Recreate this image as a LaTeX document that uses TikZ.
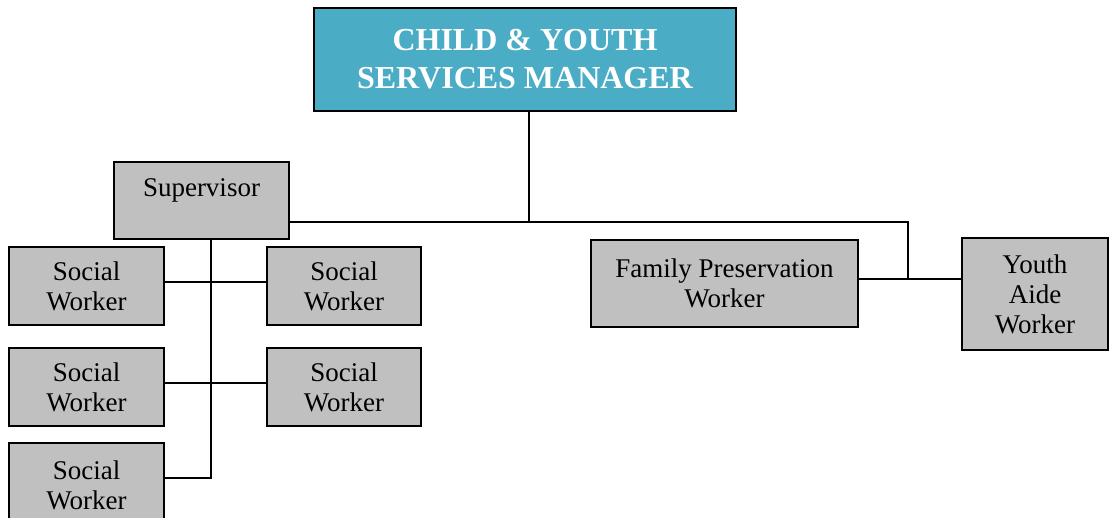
\documentclass[tikz,border=0pt]{standalone}
\usepackage{fontspec}
\setmainfont{Liberation Serif}
\definecolor{managerBlue}{HTML}{4BACC6}
\definecolor{boxGray}{HTML}{C0C0C0}

\begin{document}
\begin{tikzpicture}[x=0.5pt, y=-0.5pt,
        staff/.style={draw, line width=1pt, fill=boxGray, inner sep=0pt, align=center,
            font=\fontsize{13.5}{15}\selectfont},
        link/.style={line width=1pt}]
        \useasboundingbox (0,0) rectangle (1109,518);
        \clip (0,0) rectangle (1109,518);

        % manager
        \node[draw, line width=1.2pt, fill=managerBlue, text=white, align=center,
            minimum width=211pt, minimum height=51.5pt,
            font=\fontsize{16}{19}\selectfont\bfseries] (mgr) at (525,59.5)
            {CHILD \& YOUTH\\SERVICES MANAGER};

        % supervisor and social workers
        \node[staff, minimum width=87.5pt, text height=17.5pt, text depth=21pt] (sup) at (201.5,200.5) {Supervisor};
        \node[staff, minimum width=77.5pt, minimum height=39pt] (sw1) at (86.5,286) {Social\\Worker};
        \node[staff, minimum width=77pt, minimum height=39pt] (sw2) at (344,286) {Social\\Worker};
        \node[staff, minimum width=77.5pt, minimum height=39pt] (sw3) at (86.5,387) {Social\\Worker};
        \node[staff, minimum width=77pt, minimum height=39pt] (sw4) at (344,387) {Social\\Worker};
        \node[staff, minimum width=77.5pt, minimum height=42pt] (sw5) at (86.5,485) {Social\\Worker};

        % family preservation and youth aide
        \node[staff, minimum width=133.5pt, minimum height=43.5pt] (fpw) at (724.5,283.5) {Family Preservation\\Worker};
        \node[staff, minimum width=73pt, minimum height=56pt] (yaw) at (1035,294) {Youth\\Aide\\Worker};

        % connectors
        \coordinate (bus) at (529,222);
        \coordinate (fork) at (908,279);
        \coordinate (spine) at (211,478);
        \draw[link] (mgr.south -| bus) -- (bus);
        \draw[link] (sup.east |- bus) -- (bus) -| (fork);
        \draw[link] (fpw.east |- fork) -- (yaw.west |- fork);

        \draw[link] (spine |- sup.south) -- (spine) -- (sw5.east |- spine);
        \draw[link] ([yshift=2pt]sw1.east) -- ([yshift=2pt]sw2.west);
        \draw[link] ([yshift=2pt]sw3.east) -- ([yshift=2pt]sw4.west);

    \end{tikzpicture}
\end{document}
